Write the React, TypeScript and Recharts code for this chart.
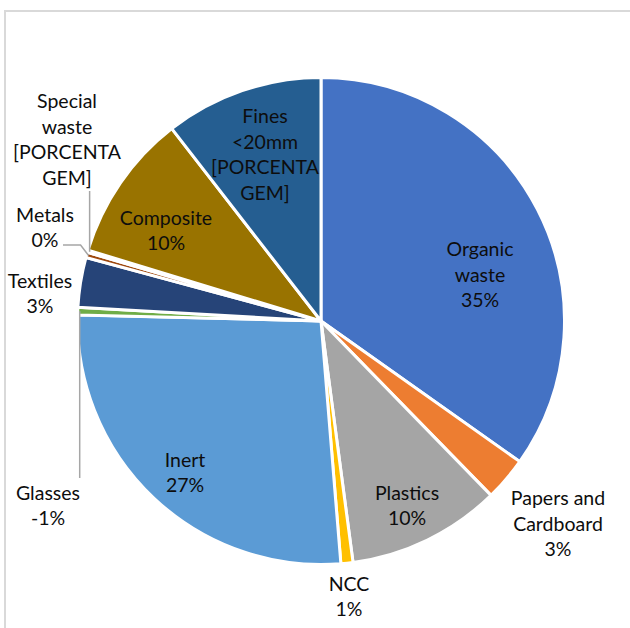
// Waste composition pie, Excel-style labels with a few leader lines.
import { PieChart, Pie, Cell } from "recharts";

const categories = [
  "Organic waste", "Papers and Cardboard", "Plastics", "NCC", "Inert", "Glasses",
  "Textiles", "Metals", "Special waste", "Composite", "Fines <20mm",
];
const shares = [34.8, 2.9, 10.2, 0.8, 26.7, 0.5, 3.3, 0.35, 0.15, 9.8, 10.5];
const nameLines = [
  ["Organic", "waste"], ["Papers and", "Cardboard"], ["Plastics"], ["NCC"], ["Inert"], ["Glasses"],
  ["Textiles"], ["Metals"], ["Special", "waste"], ["Composite"], ["Fines", "<20mm"],
];
const valueLabels = [
  ["35%"], ["3%"], ["10%"], ["1%"], ["27%"], ["-1%"], ["3%"], ["0%"],
  ["[PORCENTA", "GEM]"], ["10%"], ["[PORCENTA", "GEM]"],
];

const colors = [
  "#4472C4", "#ED7D31", "#A5A5A5", "#FFC000", "#5B9BD5", "#70AD47",
  "#264478", "#9E480E", "#636363", "#997300", "#255E91",
];

const data = categories.map((name, i) => ({ name, value: shares[i] }));

// label block centre relative to pie centre; lead = leader start relative to label centre
const place: { dx: number; dy: number; lead?: [number, number]; elbow?: boolean }[] = [
  { dx: 159, dy: -47 },
  { dx: 237, dy: 202 },
  { dx: 86, dy: 184 },
  { dx: 28, dy: 275 },
  { dx: -136, dy: 151 },
  { dx: -273, dy: 184, lead: [30, -27] },
  { dx: -281, dy: -28 },
  { dx: -276, dy: -94, lead: [18, 18], elbow: true },
  { dx: -254, dy: -182, lead: [21, 52] },
  { dx: -155, dy: -91 },
  { dx: -56, dy: -167 },
];

const RAD = Math.PI / 180;
const LH = 25.5;

function renderLabel(props: any) {
  const { cx, cy, midAngle, outerRadius, index } = props;
  const p = place[index];
  const lines = [...nameLines[index], ...valueLabels[index]];
  const x = cx + p.dx;
  const y = cy + p.dy;
  let leader = null;
  if (p.lead) {
    const ex = cx + (outerRadius - 2) * Math.cos(-midAngle * RAD);
    const ey = cy + (outerRadius - 2) * Math.sin(-midAngle * RAD);
    const sx = x + p.lead[0];
    const sy = y + p.lead[1];
    const pts = p.elbow ? `${sx},${sy} ${ex - 8},${sy} ${ex},${ey}` : `${ex},${sy} ${ex},${ey}`;
    leader = <polyline points={pts} fill="none" stroke="#A6A6A6" strokeWidth={1.5} />;
  }
  return (
    <g key={`lbl-${index}`}>
      {leader}
      {lines.map((t, i) => (
        <text
          key={i}
          x={x}
          y={y + (i - (lines.length - 1) / 2) * LH}
          textAnchor="middle"
          dominantBaseline="central"
          fill="#0D0D0D"
          fontSize={19.5}
          fontFamily="Lato, 'Open Sans', sans-serif"
        >
          {t}
        </text>
      ))}
    </g>
  );
}

export default function App() {
  return (
    <div style={{ position: "fixed", left: 0, top: 0, width: 630, height: 628, overflow: "hidden", background: "#fff" }}>
      <div
        style={{
          position: "absolute", left: 4, top: 10, width: 700, height: 700,
          border: "2px solid #D9D9D9", boxSizing: "border-box",
        }}
      />
      <div style={{ position: "absolute", left: 0, top: 0 }}>
        <PieChart width={630} height={628} margin={{ top: 0, right: 0, bottom: 0, left: 0 }}>
          <Pie
            data={data}
            dataKey="value"
            nameKey="name"
            cx={321}
            cy={321}
            outerRadius={243.5}
            startAngle={90}
            endAngle={-270}
            stroke="#fff"
            strokeWidth={3}
            label={renderLabel}
            labelLine={false}
            isAnimationActive={false}
          >
            {data.map((d, i) => (
              <Cell key={d.name} fill={colors[i]} />
            ))}
          </Pie>
        </PieChart>
      </div>
    </div>
  );
}
